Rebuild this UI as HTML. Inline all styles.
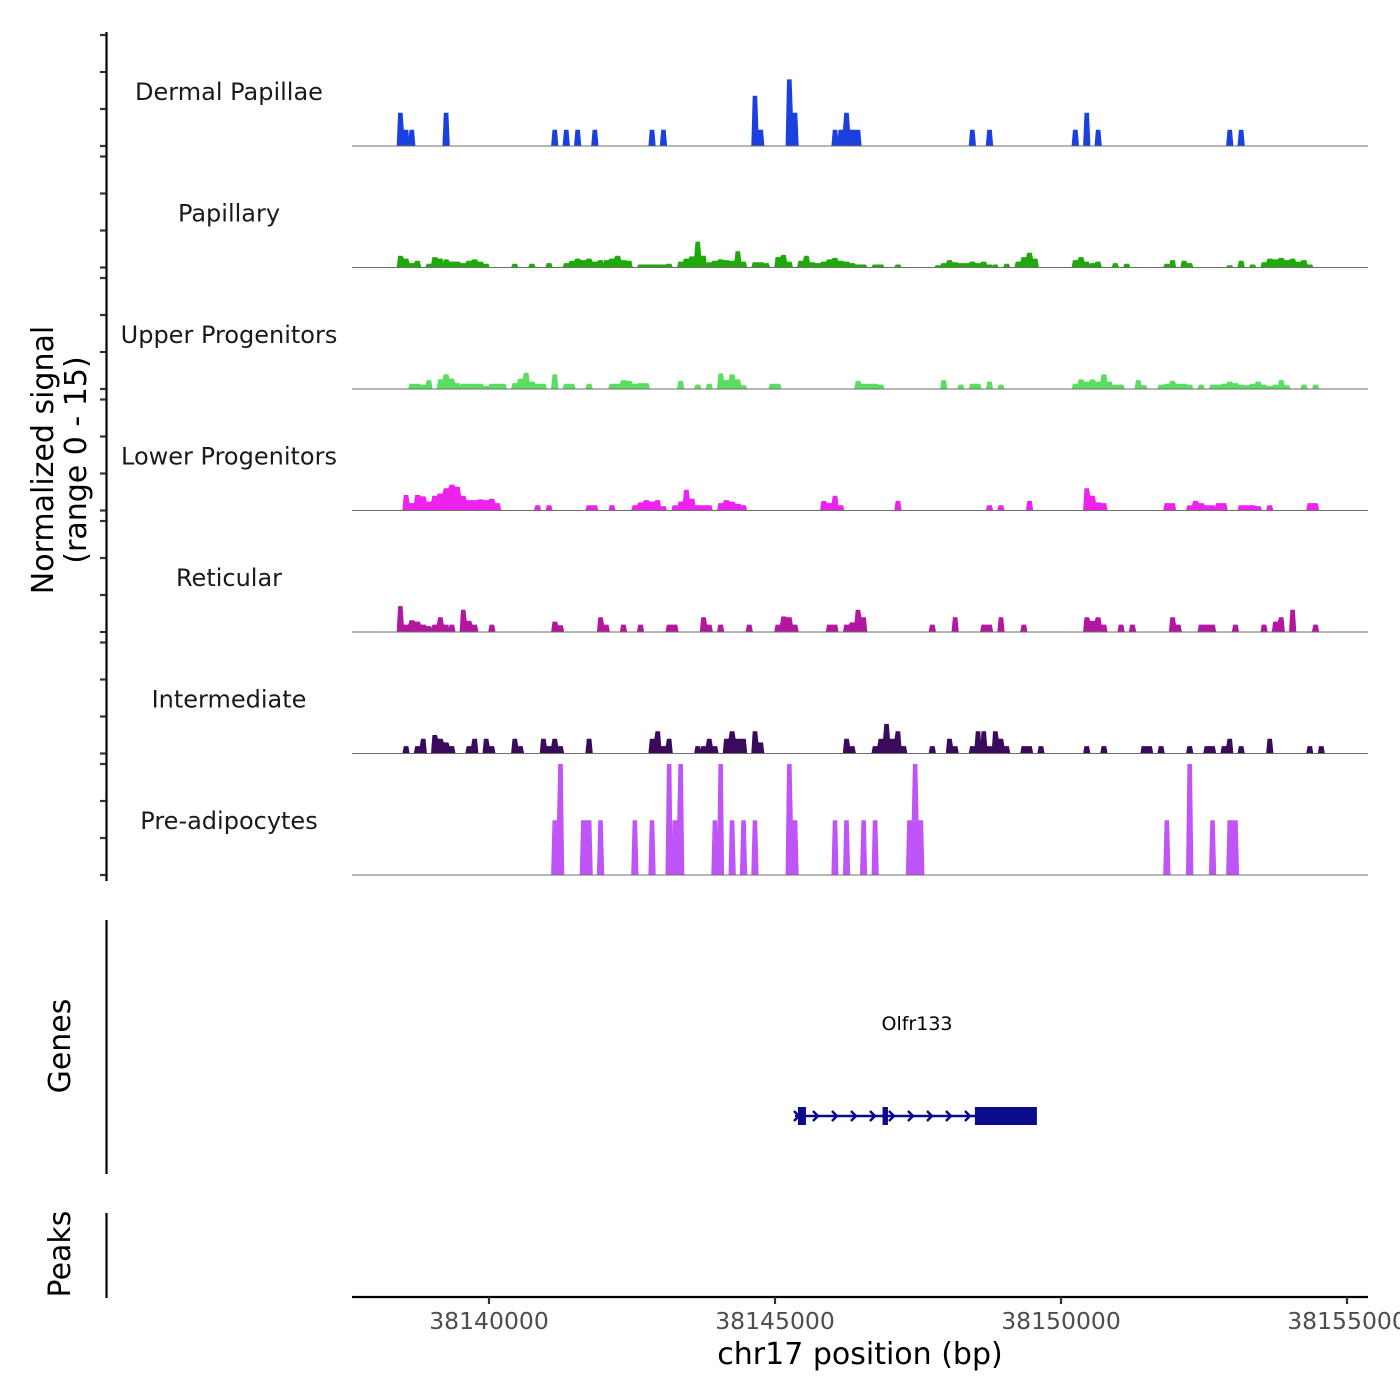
<!DOCTYPE html>
<html><head><meta charset="utf-8">
<style>
html,body{margin:0;padding:0;background:#fff;}
svg{display:block;font-family:"DejaVu Sans","Liberation Sans",sans-serif;}
</style></head>
<body>
<svg id="chart" width="1400" height="1400" viewBox="0 0 1400 1400" xmlns="http://www.w3.org/2000/svg">
<rect width="1400" height="1400" fill="#fff"/>
<g id="tracks"></g>
<g id="axes"></g>
<g id="genes"></g>
</svg>
<script>
// ---- data ----
const regionStart = 38137600;
const binSize = 100;
const xTicks = [38140000, 38145000, 38150000, 38155000];
const trackNames = ["Dermal Papillae","Papillary","Upper Progenitors","Lower Progenitors","Reticular","Intermediate","Pre-adipocytes"];
const trackColors = ["#1a40df","#1faa0c","#5ade62","#ee22ee","#b3179f","#3a0b5c","#bf55f6"];
// runs: [startBin, values...]
const dermal = [[8,4.5,2.2],[10,2.2],[16,4.5],[35,2.2],[37,2.2],[39,2.2],[42,2.2],[52,2.2],[54,2.2],[70,6.8,2.2],[76,9,4.5],[84,2.2],[85,2.2,4.5,2.2,2.2],[108,2.2],[111,2.2],[126,2.2],[128,4.5],[130,2.2],[153,2.2],[155,2.2]];
const papillary = [[8,1.6,1.2,0.6,0.9],[13,0.5,1.4,1.2],[16,1.1,0.8,0.8,0.6,0.9,1.1,0.8,0.5],[28,0.5],[31,0.5],[34,0.6],[37,0.6,0.9,1.2,1.0,1.2,0.8,1.0],[44,1.0,1.2,1.6,1.0,0.9],[50,0.4,0.4,0.4,0.4,0.4,0.5],[57,0.8,1.2,1.5,3.5,1.6],[62,0.7,0.9,1.1,1.0,0.9,2.2,0.8],[70,0.7,0.7,0.6],[74,1.4,1.7,0.8],[78,0.9,1.6,0.7,0.6,0.8,1.1,1.3,0.9,0.8,0.6,0.4,0.4],[91,0.4,0.4],[95,0.4],[102,0.3,0.6,1.0,0.7,0.6,0.6,0.8,0.6,0.8,0.4],[112,0.4,0,0.5],[116,0.8,1.4,2.0,1.2],[126,1.0,1.4,0.8],[129,0.6,0.8],[133,0.6],[135,0.5],[142,0.5],[143,1.0],[145,0.9,0.6],[153,0.3],[155,0.9],[157,0.4],[159,0.7,1.2,1.1,1.3,1.0,1.2,0.8,1.0,0.4]];
const upper = [[10,0.7,0.7,0.6,1.2],[15,1.3,2.0,1.4,0.8],[19,0.7,0.7,0.7,0.7,0.4,0.7,0.7,0.7],[28,0.8,1.4,2.2,1.0,0.7,0.7],[35,2.0],[37,0.7,0.7],[41,0.7],[45,0.7,0.7,1.2,1.1,0.7,0.8,0.8],[57,1.1],[60,0.6],[62,0.7],[64,2.1,1.2,2.0,1.3,0.5],[73,0.7,0.7],[88,1.1,0.7,0.7,0.7,0.6],[103,1.2],[106,0.6,0,0.7,0.7,0,1.0,0,0.6],[126,0.7,1.3,1.0,1.3,1.0,2.0,1.0],[133,0.6,0.6],[137,1.2,0.5],[141,0.6,0.7,1.1,0.7,0.7,0.6],[148,0.6],[150,0.6,0.6,0.7,1.0,0.8,0.6,0.5,0.7,1.0,0.6,0.4,0.6],[162,1.2,0.5],[166,0.6,0,0.6]];
const lower = [[9,2.1,1.0,2.1,1.9,1.2,2.0,2.3,3.0,3.5,3.2,2.0,1.4,1.4,1.5,1.4,1.6,1.0],[32,0.7,0,0.7],[41,0.7,0.7,0,0,0.7],[49,0.7,1.1,1.4,1.2,1.4],[54,0.6,0,0.7],[57,1.2,2.8,1.6,0.7,0.7,0.7],[64,1.0,1.4,1.2,0.9,0.7],[82,1.3,1.0,2.0,0.7],[95,1.3],[111,0.7],[113,0.7],[118,1.3],[128,3.0,2.0,1.1,1.0],[142,1.0,1.0],[146,0.7,1.3,1.0,0.7,0.7],[151,1.0,1.0],[155,0.7,0.7,0.7,0.6],[160,0.7],[167,1.0,1.0]];
const reticular = [[8,3.5,1.0,1.6,1.4,1.0,0.8],[14,1.0,2.0,1.0],[17,1.0],[19,3.0,1.5,1.0],[24,1.0],[35,1.4,0.9],[43,2.0,1.0],[47,1.0],[50,1.0],[55,1.0,1.0],[61,2.0,1.0],[64,1.0],[69,1.0],[74,1.0,2.1,2.0,1.0],[83,1.0,1.0,0,1.0,1.3,3.0,2.0],[101,1.0],[105,2.0],[110,1.0,1.0],[113,2.0],[117,1.0],[128,2.0,1.5,2.0,1.0],[134,1.0],[136,1.0],[143,2.0,1.0],[148,1.0,1.0,1.0],[154,1.0],[159,1.0],[161,1.4,2.0],[164,3.0],[168,1.0]];
const intermediate = [[9,1.0],[11,1.0,2.0],[14,2.5,2.0,1.5,1.0],[20,1.0,2.0],[23,2.0,1.0],[28,2.0,1.0],[33,2.0,1.0,2.0,1.0],[41,2.0],[52,2.0,3.0,1.0,2.0],[60,1.0],[61,1.0,2.0,1.0],[65,2.0,3.0,2.0,2.0],[70,3.0,1.5],[86,2.0,1.0],[91,1.0,2.0,4.0,2.0,3.0,1.0],[101,1.0],[104,2.0,1.0],[108,1.0,3.0],[110,3.0,1.0],[112,3.0,2.0,1.0],[117,1.0,1.0],[120,1.0],[128,1.0],[131,1.0],[138,1.0,1.0],[141,1.0],[146,1.0],[149,1.0,1.0],[152,1.0,2.0],[155,1.0],[160,2.0],[167,1.0,0,1.0]];
const preadipocytes = [[35,7.4,15],[40,7.4,7.4],[43,7.4],[49,7.4],[52,7.4],[55,15],[56,7.4,15],[63,7.4],[64,15,0,7.4],[68,7.4],[70,7.4],[76,15,7.4],[84,7.4,0,7.4],[89,7.4,0,7.4],[97,7.4,15,7.4],[142,7.4],[146,15],[150,7.4],[153,7.4,7.4]];
const trackData = [dermal,papillary,upper,lower,reticular,intermediate,preadipocytes];
const geneName = "Olfr133";
const geneStart = 38145349, geneEnd = 38149579;
const geneExons = [[38145401,38145541],[38146880,38146975],[38148495,38149579]];

// ---- scales ----
const NS="http://www.w3.org/2000/svg";
const xs = bp => 489 + (bp - 38140000) * 0.0572;
const unitPx = 7.4, maxV = 15;
const baselines = [146,267.5,389,510.5,632,753.5,875];
const ys = (k,v) => baselines[k] - Math.min(v,maxV)*unitPx;
function el(tag, attrs, parent){const e=document.createElementNS(NS,tag);for(const a in attrs)e.setAttribute(a,attrs[a]);parent.appendChild(e);return e;}

const tracks=document.getElementById('tracks');
trackData.forEach((runs,k)=>{
  const g=el('g',{},tracks);
  
  
  const lbl=el('text',{x:229,y:baselines[k]-46,'text-anchor':'middle','font-size':'24',fill:'#1a1a1a'},g);
  lbl.textContent=trackNames[k];
  
  
  runs.forEach(run=>{
    const b=run[0], vals=run.slice(1);
    let pts=[];
    const x0=xs(regionStart+b*binSize);
    pts.push([x0-0.8,baselines[k]]);
    vals.forEach((v,j)=>{
      const a=xs(regionStart+(b+j)*binSize), c=xs(regionStart+(b+j+1)*binSize);
      const y=ys(k,v);
      pts.push([a+0.6,y]);pts.push([c-0.6,y]);
    });
    pts.push([xs(regionStart+(b+vals.length)*binSize)+0.8,baselines[k]]);
    const p=el('polygon',{points:pts.map(q=>q[0].toFixed(1)+','+q[1].toFixed(1)).join(' '),fill:trackColors[k]},g);
    
    
  });
  const bl=el('line',{x1:352,x2:1368,y1:baselines[k],y2:baselines[k],stroke:'#6e6e6e','stroke-width':1},g);
  
  
});

// ---- axes ----
const axes=document.getElementById('axes');
let ax=el('line',{x1:106.5,x2:106.5,y1:32,y2:881,stroke:'#000','stroke-width':2.2},axes);


baselines.forEach(b=>{
  [0,5,10,15].forEach(v=>{
    const y=b-v*unitPx;
    const t=el('line',{x1:100,x2:106,y1:y,y2:y,stroke:'#333','stroke-width':2.2},axes);
    
    
  });
});
ax=el('line',{x1:106.5,x2:106.5,y1:920,y2:1174,stroke:'#000','stroke-width':2.2},axes);


ax=el('line',{x1:106.5,x2:106.5,y1:1213,y2:1298,stroke:'#000','stroke-width':2.2},axes);


ax=el('line',{x1:352,x2:1368,y1:1297,y2:1297,stroke:'#000','stroke-width':2.2},axes);


xTicks.forEach(v=>{
  const x=xs(v);
  const t=el('line',{x1:x,x2:x,y1:1297,y2:1304,stroke:'#333','stroke-width':2.2},axes);
  
  
  const l=el('text',{x:x,y:1329,'text-anchor':'middle','font-size':'23.5',fill:'#4d4d4d'},axes);
  l.textContent=v;
  
  
});
let tt=el('text',{x:860,y:1364,'text-anchor':'middle','font-size':'30',fill:'#000'},axes);
tt.textContent='chr17 position (bp)';


tt=el('text',{transform:'translate(53,460) rotate(-90)','text-anchor':'middle','font-size':'30',fill:'#000'},axes);
tt.textContent='Normalized signal';


tt=el('text',{transform:'translate(86,460) rotate(-90)','text-anchor':'middle','font-size':'30',fill:'#000'},axes);
tt.textContent='(range 0 - 15)';


tt=el('text',{transform:'translate(70,1046) rotate(-90)','text-anchor':'middle','font-size':'30',fill:'#000'},axes);
tt.textContent='Genes';


tt=el('text',{transform:'translate(70,1254) rotate(-90)','text-anchor':'middle','font-size':'30',fill:'#000'},axes);
tt.textContent='Peaks';



// ---- gene ----
const genes=document.getElementById('genes');
const gy=1116, navy='#0b0b8c';
let gl=el('line',{x1:xs(geneStart),x2:xs(geneEnd),y1:gy,y2:gy,stroke:navy,'stroke-width':2.5},genes);


for(let x=xs(geneStart)+2;x<xs(geneExons[2][0]);x+=19){
  const c=el('polyline',{points:`${x-3},${gy-5} ${x+2},${gy} ${x-3},${gy+5}`,fill:'none',stroke:navy,'stroke-width':2.5},genes);
  
  
}
geneExons.forEach(e=>{
  const r=el('rect',{x:xs(e[0]),y:gy-9,width:xs(e[1])-xs(e[0]),height:18,fill:navy},genes);
  
  
});
const gt=el('text',{x:917,y:1030,'text-anchor':'middle','font-size':'19',fill:'#000'},genes);
gt.textContent=geneName;


</script>
</body></html>
